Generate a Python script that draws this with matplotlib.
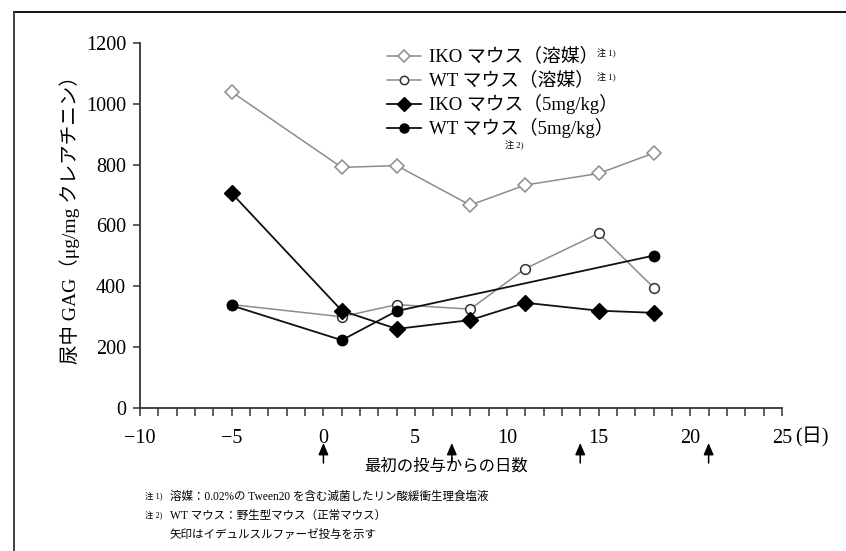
import matplotlib
matplotlib.use("Agg")
import matplotlib.pyplot as plt
from matplotlib.lines import Line2D
from matplotlib.ticker import MultipleLocator

plt.rcParams['font.family'] = ['Liberation Serif', 'Noto Sans CJK JP', 'DejaVu Sans']

# Days since first dose
days = [-5, 1, 4, 8, 11, 15, 18]
days_wt_dose = [-5, 1, 4, 18]

# Urinary GAG (ug/mg creatinine)
iko_vehicle = [1039, 791, 797, 667, 733, 771, 838]
wt_vehicle = [340, 300, 340, 325, 458, 574, 396]
iko_dose = [706, 320, 260, 289, 346, 320, 313]
wt_dose = [337, 223, 319, 501]

# Idursulfase dosing days
dose_days = [0, 7, 14, 21]

series_labels = ["IKO マウス（溶媒）", "WT マウス（溶媒）",
                 "IKO マウス（5mg/kg）", "WT マウス（5mg/kg）"]
y_ticks = [0, 200, 400, 600, 800, 1000, 1200]
x_ticks = [-10, -5, 0, 5, 10, 15, 20, 25]

W, H = 846, 551
fig = plt.figure(figsize=(W / 100, H / 100), dpi=100)
ax = fig.add_axes([140 / W, 1 - 408 / H, 642 / W, 365 / H])

grey = "#8c8c8c"
styles = [
    dict(color=grey, lw=1.1, marker="D", ms=7.5, mfc="white", mec=grey, mew=1.1),
    dict(color=grey, lw=1.1, marker="o", ms=7, mfc="white", mec="#333333", mew=1.1),
    dict(color="#111111", lw=1.3, marker="D", ms=8, mfc="black", mec="black"),
    dict(color="#111111", lw=1.3, marker="o", ms=7.5, mfc="black", mec="black"),
]

ax.plot(days, iko_vehicle, zorder=3, **styles[0])
ax.plot(days, wt_vehicle, zorder=3, **styles[1])
ax.plot(days, iko_dose, zorder=4, **styles[2])
ax.plot(days_wt_dose, wt_dose, zorder=4, **styles[3])

ax.set_xlim(-10, 25)
ax.set_ylim(0, 1200)
for s in ("top", "right"):
    ax.spines[s].set_visible(False)
for s in ("left", "bottom"):
    ax.spines[s].set_color("#333333")
    ax.spines[s].set_linewidth(1.3)

ax.set_yticks(y_ticks)
ax.set_yticklabels([str(v) for v in y_ticks])
ax.set_xticks(x_ticks)
ax.set_xticklabels([str(v).replace("-", "−") for v in x_ticks])
ax.xaxis.set_minor_locator(MultipleLocator(1))
ax.tick_params(axis="y", direction="out", length=5, width=1.1,
               color="#333333", labelsize=14.5, pad=5)
ax.tick_params(axis="x", which="both", direction="out", length=6, width=1.1,
               color="#333333", labelsize=14.5, pad=9)

fig.text(795 / W, 1 - 437 / H, "(日)", fontsize=14.5, ha="left", va="center")

# Dosing arrows below the axis
xt = ax.get_xaxis_transform()
for d in dose_days:
    ax.annotate("", xy=(d, -(443 - 408) / 365), xytext=(d, -(463 - 408) / 365),
                xycoords=xt, textcoords=xt,
                arrowprops=dict(arrowstyle="-|>,head_length=0.7,head_width=0.3",
                                color="black", lw=1.1, shrinkA=0, shrinkB=0),
                annotation_clip=False)

fig.text(446 / W, 1 - 467 / H, "最初の投与からの日数", fontsize=11.8,
         ha="center", va="center")
fig.text(70 / W, 1 - 215 / H, "尿中 GAG（μg/mg クレアチニン）", fontsize=14,
         rotation=90, ha="center", va="center")

# Legend
rows_y = [56, 80, 104, 128]
for lab, st, ry in zip(series_labels, styles, rows_y):
    yy = 1 - ry / H
    line_st = dict(st)
    line_st["ms"] = st["ms"] - 1
    fig.add_artist(Line2D([387 / W, 421 / W], [yy, yy], markevery=[], **line_st))
    fig.add_artist(Line2D([404 / W], [yy], **line_st))
    fig.text(429 / W, yy, lab, fontsize=13.5, ha="left", va="center")
fig.text(597 / W, 1 - 53 / H, "注 1)", fontsize=6.5, ha="left", va="center")
fig.text(597 / W, 1 - 77 / H, "注 1)", fontsize=6.5, ha="left", va="center")
fig.text(505 / W, 1 - 145 / H, "注 2)", fontsize=6.5, ha="left", va="center")

# Footnotes
fig.text(145 / W, 1 - 497 / H, "注 1)", fontsize=6, ha="left", va="center")
fig.text(170 / W, 1 - 497 / H, "溶媒：0.02%の Tween20 を含む滅菌したリン酸緩衝生理食塩液",
         fontsize=8.3, ha="left", va="center")
fig.text(145 / W, 1 - 516 / H, "注 2)", fontsize=6, ha="left", va="center")
fig.text(170 / W, 1 - 516 / H, "WT マウス：野生型マウス（正常マウス）",
         fontsize=8.3, ha="left", va="center")
fig.text(170 / W, 1 - 535 / H, "矢印はイデュルスルファーゼ投与を示す",
         fontsize=8.3, ha="left", va="center")

# Frame lines along the top and left edges
fig.add_artist(Line2D([14 / W, 1.0], [1 - 12 / H, 1 - 12 / H], color="black", lw=1.3))
fig.add_artist(Line2D([14 / W, 14 / W], [1 - 12 / H, 0], color="#333333", lw=1.3))

fig.savefig("out.png", dpi=100)
